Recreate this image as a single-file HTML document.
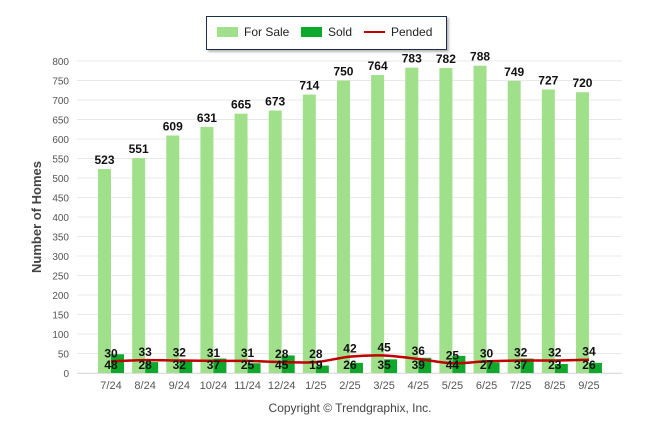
<!DOCTYPE html>
<html><head><meta charset="utf-8"><style>
body{margin:0;background:#fff;}
svg{display:block;font-family:"Liberation Sans",sans-serif;}
</style></head><body>
<svg id="c" width="646" height="434">
<defs><filter id="sh" x="-10%" y="-10%" width="130%" height="140%"><feDropShadow dx="2" dy="2" stdDeviation="1" flood-color="#888" flood-opacity="0.6"/></filter></defs>
<g>
<rect x="206.5" y="16.5" width="240" height="33" fill="#fff" stroke="#1f2d4d" stroke-width="1" filter="url(#sh)"/>
<rect x="217" y="27" width="21" height="10" fill="#a1e08a"/>
<text x="244" y="36" font-size="12" fill="#222">For Sale</text>
<rect x="301" y="27" width="21" height="10" fill="#0ea82a"/>
<text x="328" y="36" font-size="12" fill="#222">Sold</text>
<line x1="364" y1="32" x2="385" y2="32" stroke="#c00000" stroke-width="2"/>
<text x="391" y="36" font-size="12" fill="#222">Pended</text>
</g>
<text transform="translate(41,217) rotate(-90)" text-anchor="middle" font-size="13" font-weight="bold" fill="#444">Number of Homes</text>
<text x="350" y="412" text-anchor="middle" font-size="12" fill="#444">Copyright © Trendgraphix, Inc.</text>
<g id="grid"></g><g id="bars"></g><g id="lbl"></g>
</svg>
<script>
const categories=["7/24","8/24","9/24","10/24","11/24","12/24","1/25","2/25","3/25","4/25","5/25","6/25","7/25","8/25","9/25"];
const forSale=[523,551,609,631,665,673,714,750,764,783,782,788,749,727,720];
const sold=[48,28,32,37,25,45,19,26,35,39,44,27,37,23,26];
const pended=[30,33,32,31,31,28,28,42,45,36,25,30,32,32,34];
const yTicks=[0,50,100,150,200,250,300,350,400,450,500,550,600,650,700,750,800];
const NS="http://www.w3.org/2000/svg";
const y=v=>373-v*312/800;
const x=i=>111+i*34.14;
function mk(t,a,p){const e=document.createElementNS(NS,t);for(const k in a)e.setAttribute(k,a[k]);p.appendChild(e);return e;}
const g=document.getElementById('grid'),b=document.getElementById('bars'),l=document.getElementById('lbl');
yTicks.forEach(v=>{
 const ln=mk('line',{x1:77,x2:622,y1:y(v),y2:y(v),stroke:'#e8e8e8','stroke-width':1},g);
 
 
 const t=mk('text',{x:69,y:y(v)+4,'text-anchor':'end','font-size':10,fill:'#555'},g);t.textContent=v;
 
 
});
mk('line',{x1:77,x2:622,y1:373.5,y2:373.5,stroke:'#ddd'},g);
categories.forEach((c,i)=>{
 const t=mk('text',{x:x(i),y:389,'text-anchor':'middle','font-size':11,fill:'#555'},g);t.textContent=c;
 
 
 const r1=mk('rect',{x:x(i)-13,y:y(forSale[i]),width:13,height:373-y(forSale[i]),fill:'#a1e08a'},b);
 
 
 const r2=mk('rect',{x:x(i),y:y(sold[i]),width:13,height:373-y(sold[i]),fill:'#0ea82a'},b);
 
 
 const t1=mk('text',{x:x(i)-6.5,y:y(forSale[i])-5,'text-anchor':'middle','font-size':12,'font-weight':'bold',fill:'#111'},l);t1.textContent=forSale[i];
 
 
 const t2=mk('text',{x:x(i),y:369,'text-anchor':'middle','font-size':12,'font-weight':'bold',fill:'#111'},l);t2.textContent=sold[i];
 
 
 const t3=mk('text',{x:x(i),y:y(pended[i])-4,'text-anchor':'middle','font-size':12,'font-weight':'bold',fill:'#111'},l);t3.textContent=pended[i];
 
 
});
const P=pended.map((v,i)=>[x(i),y(v)]);
let d='M'+P[0][0]+','+P[0][1];
for(let i=0;i<P.length-1;i++){const p0=P[Math.max(0,i-1)],p1=P[i],p2=P[i+1],p3=P[Math.min(P.length-1,i+2)];
 d+=' C'+(p1[0]+(p2[0]-p0[0])/6)+','+(p1[1]+(p2[1]-p0[1])/6)+' '+(p2[0]-(p3[0]-p1[0])/6)+','+(p2[1]-(p3[1]-p1[1])/6)+' '+p2[0]+','+p2[1];}
const pl=mk('path',{d:d,fill:'none',stroke:'#c00000','stroke-width':2.5},b);


</script>
</body></html>
